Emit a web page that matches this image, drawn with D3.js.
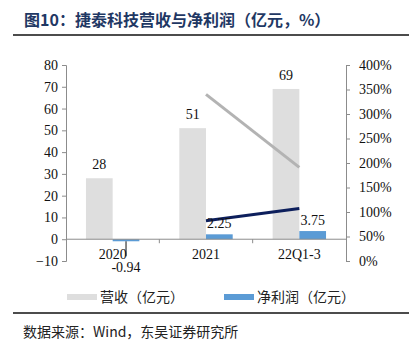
<!DOCTYPE html>
<html>
<head>
<meta charset="utf-8">
<script src="https://cdn.jsdelivr.net/npm/d3@7"></script>
<style>
  body { margin: 0; background: #fff; }
  svg { display: block; }
</style>
</head>
<body>
<div id="chart"></div>
<script>
// data
const categories = ["2020", "2021", "22Q1-3"];
const revenue = [28, 51, 69];
const netProfit = [-0.94, 2.25, 3.75];
const revLabels = ["28", "51", "69"];
const profitLabels = ["-0.94", "2.25", "3.75"];
// growth lines on the right axis (no legend entry in the original)
const grayLine = [null, 3.40, 1.91];
const navyLine = [null, 0.82, 1.07];
const leftTicks = [-10, 0, 10, 20, 30, 40, 50, 60, 70, 80];
const rightTicks = [0, 0.5, 1, 1.5, 2, 2.5, 3, 3.5, 4];

const W = 414, H = 354;
const svg = d3.select("#chart").append("svg")
    .attr("width", W)
    .attr("height", H);

const serif = "'Liberation Serif', 'Times New Roman', serif";
const cjk = "'Noto Sans CJK SC', sans-serif";

// title + rules
svg.append("text")
    .attr("x", 24)
    .attr("y", 26)
    .attr("font-family", cjk)
    .attr("font-weight", 700)
    .attr("font-size", "16px")
    .attr("fill", "#1f3864")
    .text("图10：捷泰科技营收与净利润（亿元，%）");

svg.append("line")
    .attr("x1", 13).attr("x2", 409)
    .attr("y1", 35).attr("y2", 35)
    .attr("stroke", "#111").attr("stroke-width", 1.5);

svg.append("line")
    .attr("x1", 13).attr("x2", 409)
    .attr("y1", 313).attr("y2", 313)
    .attr("stroke", "#111").attr("stroke-width", 1.5);

svg.append("text")
    .attr("x", 23)
    .attr("y", 337)
    .attr("font-family", cjk)
    .attr("font-size", "14px")
    .attr("fill", "#222")
    .text("数据来源：Wind，东吴证券研究所");

// scales
const x0 = d3.scaleBand().domain(categories).range([66, 346]);
const yL = d3.scaleLinear().domain([-10, 80]).range([261, 65]);
const yR = d3.scaleLinear().domain([0, 4]).range([261, 65]);
const barW = 26.7;
const axisColor = "#8c8c8c";

// left axis
const gL = svg.append("g")
    .attr("transform", `translate(${x0.range()[0]},0)`)
    .call(d3.axisLeft(yL).tickValues(leftTicks).tickSize(4).tickPadding(4));
gL.select(".domain").attr("stroke", axisColor);
gL.selectAll(".tick line").attr("stroke", axisColor);
gL.selectAll("text")
    .attr("font-family", serif)
    .attr("font-size", "14px")
    .attr("fill", "#111");

// right axis
const gR = svg.append("g")
    .attr("transform", `translate(${x0.range()[1]},0)`)
    .call(d3.axisRight(yR).tickValues(rightTicks).tickSize(4).tickPadding(9)
        .tickFormat(d => Math.round(d * 100) + "%"));
gR.select(".domain").attr("stroke", axisColor);
gR.selectAll(".tick line").attr("stroke", axisColor);
gR.selectAll("text")
    .attr("font-family", serif)
    .attr("font-size", "14px")
    .attr("fill", "#111");

// bars
const rows = categories.map((c, i) => ({ c, rev: revenue[i], np: netProfit[i], i }));
const center = d => x0(d.c) + x0.bandwidth() / 2;

svg.selectAll(".rev")
    .data(rows)
    .join("rect")
    .attr("class", "rev")
    .attr("x", d => center(d) - barW)
    .attr("y", d => yL(d.rev))
    .attr("width", barW)
    .attr("height", d => yL(0) - yL(d.rev))
    .attr("fill", "#dedede");

svg.selectAll(".np")
    .data(rows)
    .join("rect")
    .attr("class", "np")
    .attr("x", d => center(d))
    .attr("y", d => yL(Math.max(0, d.np)))
    .attr("width", barW)
    .attr("height", d => Math.abs(yL(0) - yL(d.np)))
    .attr("fill", "#5b9bd5");

// x axis along zero
const gX = svg.append("g")
    .attr("transform", `translate(0,${yL(0)})`);
gX.append("line")
    .attr("x1", x0.range()[0]).attr("x2", x0.range()[1])
    .attr("stroke", axisColor);
gX.selectAll(".xt")
    .data(categories.slice(1))
    .join("line")
    .attr("x1", d => x0(d)).attr("x2", d => x0(d))
    .attr("y1", 0).attr("y2", 4)
    .attr("stroke", axisColor);
gX.selectAll(".xl")
    .data(rows)
    .join("text")
    .attr("x", center)
    .attr("y", 20)
    .attr("text-anchor", "middle")
    .attr("font-family", serif)
    .attr("font-size", "14px")
    .attr("fill", "#111")
    .text(d => d.c);

// lines
const lineGen = d3.line()
    .defined(d => d.v != null)
    .x(d => center(d))
    .y(d => yR(d.v));

svg.append("path")
    .datum(rows.map(r => ({ ...r, v: grayLine[r.i] })))
    .attr("d", lineGen)
    .attr("fill", "none")
    .attr("stroke", "#b3b3b3")
    .attr("stroke-width", 3);

svg.append("path")
    .datum(rows.map(r => ({ ...r, v: navyLine[r.i] })))
    .attr("d", lineGen)
    .attr("fill", "none")
    .attr("stroke", "#0d1f5c")
    .attr("stroke-width", 3);

// value labels
svg.selectAll(".revLab")
    .data(rows)
    .join("text")
    .attr("x", d => center(d) - barW / 2)
    .attr("y", d => yL(d.rev) - 9)
    .attr("text-anchor", "middle")
    .attr("font-family", serif)
    .attr("font-size", "14px")
    .attr("fill", "#111")
    .text(d => revLabels[d.i]);

svg.selectAll(".npLab")
    .data(rows)
    .join("text")
    .attr("x", d => center(d) + barW / 2)
    .attr("y", d => d.np < 0 ? yL(d.np) + 31 : yL(d.np) - 6)
    .attr("text-anchor", "middle")
    .attr("font-family", serif)
    .attr("font-size", "14px")
    .attr("fill", "#111")
    .text(d => profitLabels[d.i]);

// leader line for the negative label
svg.selectAll(".leader")
    .data(rows.filter(d => d.np < 0))
    .join("line")
    .attr("x1", d => center(d) + barW / 2).attr("x2", d => center(d) + barW / 2)
    .attr("y1", d => yL(d.np)).attr("y2", d => yL(d.np) + 15)
    .attr("stroke", "#111").attr("stroke-width", 1);

// legend
const legend = [
    { name: "营收（亿元）", color: "#dedede", x: 67 },
    { name: "净利润（亿元）", color: "#5b9bd5", x: 224 }
];
const lg = svg.selectAll(".lg")
    .data(legend)
    .join("g")
    .attr("transform", d => `translate(${d.x},297)`);
lg.append("rect")
    .attr("x", 0).attr("y", -3)
    .attr("width", 30).attr("height", 6)
    .attr("fill", d => d.color);
lg.append("text")
    .attr("x", 33)
    .attr("y", 5)
    .attr("font-family", cjk)
    .attr("font-size", "14px")
    .attr("fill", "#222")
    .text(d => d.name);
</script>
</body>
</html>
